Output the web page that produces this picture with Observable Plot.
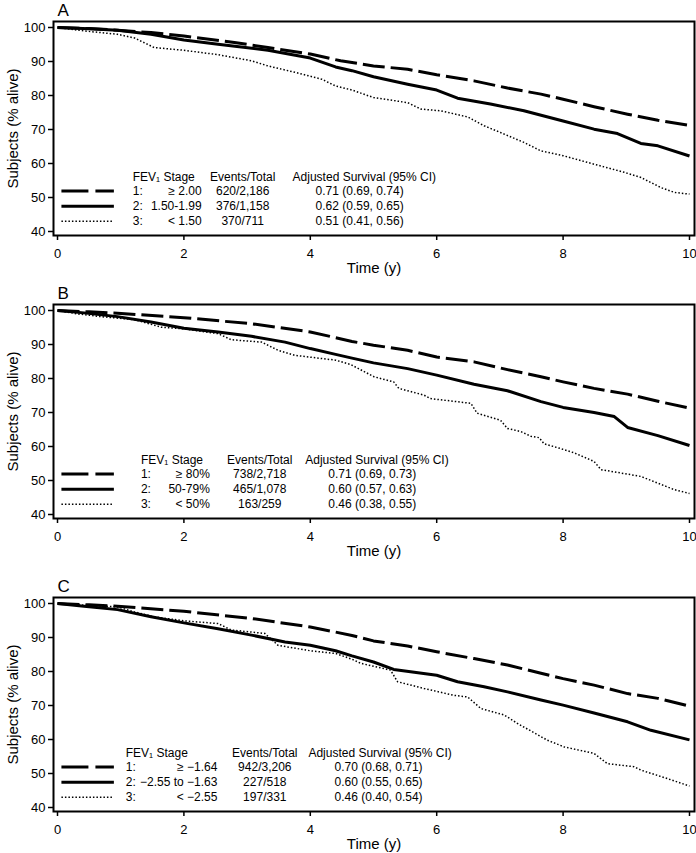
<!DOCTYPE html>
<html>
<head>
<meta charset="utf-8">
<script src="https://cdn.jsdelivr.net/npm/d3@7"></script>
<script src="https://cdn.jsdelivr.net/npm/@observablehq/plot@0.6"></script>
<style>
  body { margin: 0; background: #fff; }
  svg { display: block; }
</style>
</head>
<body>
<div id="chart"></div>
<script>
// Survival curves: time in years, % alive
// Panel A: FEV1 in litres
const timeA1 = [0, 0.5, 0.95, 1.48, 2, 2.8, 3.33, 4, 4.48, 5.0, 5.54, 6, 6.59, 7.12, 7.65, 8, 8.49, 9.02, 9.5, 10]
const survA1 = [100, 99.7, 99.2, 98.5, 97.5, 95.6, 94.1, 92.2, 90.2, 88.7, 87.7, 86.1, 84.3, 82.2, 80.4, 78.9, 76.7, 74.5, 72.7, 71.2]
const timeA2 = [0, 0.5, 0.95, 1.48, 2, 2.54, 3.33, 4, 4.4, 4.66, 5.0, 5.54, 6, 6.33, 6.85, 7.38, 8, 8.49, 8.86, 9.23, 9.5, 10]
const survA2 = [100, 99.6, 99.2, 98, 96.3, 95.1, 93.3, 91, 88.4, 87.3, 85.5, 83.3, 81.6, 79.2, 77.5, 75.5, 72.5, 70.1, 68.8, 65.9, 65.2, 62.2]
const timeA3 = [0, 0.42, 0.95, 1.22, 1.53, 2, 2.54, 3.07, 3.33, 3.76, 4.18, 4.4, 4.66, 5.0, 5.54, 5.75, 6.06, 6.49, 6.75, 7.01, 7.38, 7.65, 8, 8.49, 8.97, 9.23, 9.55, 9.76, 10]
const survA3 = [100, 99, 98, 96.9, 94.1, 93.3, 92, 90.2, 88.7, 86.8, 84.8, 82.8, 81.6, 79.4, 77.9, 76, 75.5, 73.7, 71.1, 69.1, 66.2, 63.7, 62.3, 59.8, 57.4, 55.9, 52.9, 51.5, 51]

// Panel B: FEV1 % predicted
const timeB1 = [0, 0.5, 0.95, 2, 3.07, 4, 4.66, 5.0, 5.54, 6, 6.59, 7.12, 7.65, 8, 8.49, 9.02, 9.5, 10]
const survB1 = [100, 99.6, 99.2, 97.9, 96.1, 93.7, 90.9, 89.8, 88.3, 86.3, 84.9, 82.6, 80.5, 79.0, 77.1, 75.4, 73.3, 71.3]
const timeB2 = [0, 0.42, 0.95, 1.48, 2, 2.54, 3.07, 3.6, 4, 4.4, 4.66, 5.0, 5.54, 6, 6.59, 7.12, 7.65, 8, 8.49, 8.81, 9.02, 9.5, 10]
const survB2 = [100, 99.3, 98.2, 96.6, 94.8, 93.7, 92.4, 90.7, 88.8, 87.1, 86.0, 84.6, 82.9, 81.0, 78.3, 76.4, 73.2, 71.5, 70.0, 68.8, 65.6, 63.2, 60.3]
const timeB3 = [0, 0.32, 0.69, 1.22, 1.64, 2, 2.54, 2.75, 3.23, 3.49, 3.76, 4.4, 4.64, 5.01, 5.32, 5.4, 5.8, 5.9, 6.54, 6.64, 7.01, 7.12, 7.33, 7.49, 7.62, 7.7, 7.96, 8.18, 8.49, 8.6, 9.23, 9.76, 10]
const survB3 = [100, 99, 98.2, 97.3, 95.1, 94.6, 93.2, 91.4, 90.7, 88.3, 86.8, 85.4, 84.1, 80.5, 79.0, 77.1, 75.1, 74.1, 72.7, 69.8, 67.7, 65.3, 64.4, 63.0, 62.6, 60.8, 59.4, 58.1, 55.6, 53.2, 51.2, 47.3, 46.2]

// Panel C: FEV1 z-score
const timeC1 = [0, 0.5, 0.95, 2, 3.07, 4, 4.66, 5.0, 5.54, 6, 6.59, 7.12, 7.65, 8, 8.49, 9.02, 9.5, 10]
const survC1 = [100, 99.6, 99.2, 97.7, 95.6, 93.1, 90.6, 89.0, 87.5, 85.8, 83.8, 81.9, 79.5, 77.9, 76.0, 73.5, 72.1, 69.8]
const timeC2 = [0, 0.42, 0.95, 1.48, 2, 2.54, 3.07, 3.6, 4, 4.4, 4.66, 5.0, 5.32, 6, 6.33, 6.75, 7.12, 7.65, 8, 8.49, 9.02, 9.39, 10]
const survC2 = [100, 99.2, 98.2, 96.1, 94.3, 92.6, 90.7, 88.7, 87.7, 86.1, 84.6, 82.8, 80.6, 78.9, 77.0, 75.5, 74.0, 71.6, 70.1, 67.8, 65.2, 62.7, 59.9]
const timeC3 = [0, 0.42, 0.95, 1.22, 1.53, 2, 2.54, 2.75, 3.28, 3.49, 4, 4.4, 4.66, 4.8, 5.27, 5.38, 5.8, 6.27, 6.49, 6.7, 7.07, 7.28, 7.75, 8.02, 8.49, 8.7, 9.12, 9.23, 9.65, 10]
const survC3 = [100, 99.5, 99, 97.5, 96.1, 94.9, 94.1, 92.2, 91.2, 87.7, 86.1, 85.3, 83.6, 82.4, 80.4, 77.0, 75.0, 73.0, 72.5, 69.1, 67.2, 64.7, 59.8, 57.8, 55.9, 52.9, 52.0, 51.0, 48.5, 46.3]

// Legend table
const legendHeader = ["FEV\u2081 Stage", "Events/Total", "Adjusted Survival (95% CI)"]
const stageNums = ["1:", "2:", "3:"]
const stagesA = ["\u2265 2.00", "1.50-1.99", "< 1.50"]
const eventsA = ["620/2,186", "376/1,158", "370/711"]
const adjA = ["0.71 (0.69, 0.74)", "0.62 (0.59, 0.65)", "0.51 (0.41, 0.56)"]
const stagesB = ["\u2265 80%", "50-79%", "< 50%"]
const eventsB = ["738/2,718", "465/1,078", "163/259"]
const adjB = ["0.71 (0.69, 0.73)", "0.60 (0.57, 0.63)", "0.46 (0.38, 0.55)"]
const stagesC = ["\u2265 \u22121.64", "\u22122.55 to \u22121.63", "< \u22122.55"]
const eventsC = ["942/3,206", "227/518", "197/331"]
const adjC = ["0.70 (0.68, 0.71)", "0.60 (0.55, 0.65)", "0.46 (0.40, 0.54)"]

const xTicks = [0, 2, 4, 6, 8, 10]
const yTicks = [40, 50, 60, 70, 80, 90, 100]

const font = "'Liberation Sans', Arial, sans-serif"
// one style per stage: long dash, solid, dotted
const lineStyles = [
  {strokeWidth: 3, strokeDasharray: "22,6", strokeLinecap: "butt"},
  {strokeWidth: 3, strokeLinecap: "butt"},
  {strokeWidth: 1.5, strokeDasharray: "1.5,2", strokeLinecap: "butt"}
]
const sampleStyles = [
  {strokeWidth: 3, strokeDasharray: "27,7"},
  {strokeWidth: 3},
  {strokeWidth: 1.5, strokeDasharray: "1.5,2"}
]

const panels = [
  {letter: "A", height: 283, series: [[timeA1, survA1], [timeA2, survA2], [timeA3, survA3]],
   stages: stagesA, events: eventsA, adj: adjA, cols: [1.19, 2.28, 2.93, 3.72, 4.78]},
  {letter: "B", height: 293, series: [[timeB1, survB1], [timeB2, survB2], [timeB3, survB3]],
   stages: stagesB, events: eventsB, adj: adjB, cols: [1.32, 2.41, 3.2, 3.92, 4.98]},
  {letter: "C", height: 277, series: [[timeC1, survC1], [timeC2, survC2], [timeC3, survC3]],
   stages: stagesC, events: eventsC, adj: adjC, cols: [1.08, 2.53, 3.28, 3.97, 5.08]}
]

// legend rows sit at these y values (in % alive)
const headerY = 56
const rowY = [51.9, 47.4, 43.0]

function drawPanel(p) {
  const [cPre, cStage, cEv, cHead, cAdj] = p.cols
  const rows = stageNums.map((n, i) => ({n, stage: p.stages[i], ev: p.events[i], adj: p.adj[i], y: rowY[i]}))
  const marks = [
    Plot.frame({strokeWidth: 2}),
    Plot.axisX({ticks: xTicks, tickSize: 5, tickPadding: 8, strokeWidth: 1.5, label: null}),
    Plot.axisY({ticks: yTicks, tickSize: 5, tickPadding: 3, strokeWidth: 1.5, label: null}),
    Plot.text([p.letter], {frameAnchor: "top-left", textAnchor: "start", lineAnchor: "middle", dx: 4, dy: -11, fontSize: 17}),
    Plot.text(["Subjects (% alive)"], {frameAnchor: "left", textAnchor: "middle", lineAnchor: "middle", dx: -40, rotate: -90, fontSize: 15}),
    Plot.text(["Time (y)"], {frameAnchor: "bottom", textAnchor: "middle", lineAnchor: "middle", dy: 33, fontSize: 15})
  ]
  p.series.forEach(([t, s], i) => {
    const data = t.map((d, j) => ({t: d, s: s[j]}))
    marks.push(Plot.line(data, {x: "t", y: "s", ...lineStyles[i]}))
    marks.push(Plot.ruleY([rowY[i]], {x1: 0.07, x2: 0.9, ...sampleStyles[i]}))
  })
  marks.push(
    Plot.text([legendHeader[0]], {x: cPre, y: headerY, textAnchor: "start", fontSize: 12}),
    Plot.text([legendHeader[1]], {x: cEv, y: headerY, fontSize: 12}),
    Plot.text([legendHeader[2]], {x: cHead, y: headerY, textAnchor: "start", fontSize: 12}),
    Plot.text(rows, {x: cPre, y: "y", text: "n", textAnchor: "start", fontSize: 12}),
    Plot.text(rows, {x: cStage, y: "y", text: "stage", textAnchor: "end", fontSize: 12}),
    Plot.text(rows, {x: cEv, y: "y", text: "ev", fontSize: 12}),
    Plot.text(rows, {x: cAdj, y: "y", text: "adj", fontSize: 12})
  )
  return Plot.plot({
    width: 696,
    height: p.height,
    marginLeft: 53,
    marginRight: 2,
    marginTop: 21,
    marginBottom: p.height - 235,
    style: {fontFamily: font, fontSize: "13px", background: "white", color: "black"},
    x: {domain: [0, 10], insetLeft: 4, insetRight: 5},
    y: {domain: [40, 100], insetTop: 6, insetBottom: 4},
    marks
  })
}

const chart = d3.select("#chart")
panels.forEach(p => chart.append(() => drawPanel(p)))
</script>
</body>
</html>
